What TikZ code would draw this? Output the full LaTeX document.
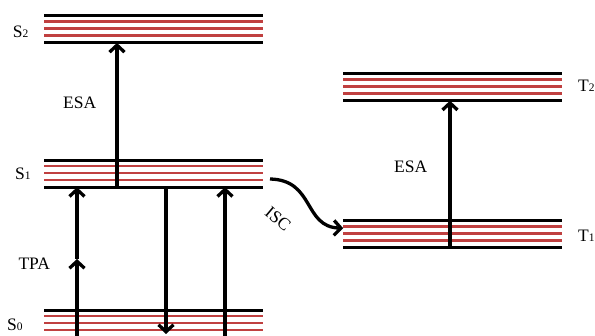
\documentclass[tikz,border=0pt]{standalone}
\usepackage{fontspec}
\setmainfont{Liberation Serif}
\usetikzlibrary{arrows.meta,calc}
\definecolor{lvred}{RGB}{192,64,64}
\newcommand\lvsub[1]{{\fontsize{11.5}{12}\selectfont #1}}
\begin{document}
\begin{tikzpicture}[x=1pt,y=-1pt,
  level/.style={minimum width=219pt, minimum height=27pt, inner sep=0pt, outer sep=0pt},
  blk/.style={line width=3pt, black},
  redl/.style={line width=2.4pt, lvred},
  arr/.style={line width=3.3pt, -{Straight Barb[length=7pt,width=15pt]}},
  lab/.style={font=\fontsize{17.5}{20}\selectfont, anchor=base west, inner sep=0pt},
]
\useasboundingbox (0,0) rectangle (595,336);
% levels
\node[level] (S2) at (153.5,29.4) {};
\node[level] (S1) at (153.5,173.7) {};
\node[level] (S0) at (153.5,323.7) {};
\node[level] (T2) at (452.7,87.2) {};
\node[level] (T1) at (452.7,234.2) {};
\foreach \n in {S2,S1,S0,T2,T1} {
  \draw[blk] (\n.north west) -- (\n.north east);
  \draw[blk] (\n.south west) -- (\n.south east);
  \foreach \f in {0.21,0.47,0.73}
    \draw[redl] ($(\n.north west)!\f!(\n.south west)$) -- ($(\n.north east)!\f!(\n.south east)$);
}
% labels
\node[lab] (lS2) at (12.7,37.3) {S\lvsub{2}};
\node[lab] (lS1) at (15,180) {S\lvsub{1}};
\node[lab] (lS0) at (7,331) {S\lvsub{0}};
\node[lab] (lT2) at (578,91.7) {T\lvsub{2}};
\node[lab] (lT1) at (578,241.5) {T\lvsub{1}};
\node[lab] (esa1) at (63,108.3) {ESA};
\node[lab] (esa2) at (394,173) {ESA};
\node[lab] (tpa) at (18.3,270) {TPA};
\node[font=\fontsize{17.5}{20}\selectfont, rotate=-40, inner sep=0pt] (isc) at (278,219) {ISC};
% arrows
\coordinate (e1) at (117,0);
\draw[arr] (S1.south -| e1) -- (S2.south -| e1);
\coordinate (tpa0) at (77,345);
\coordinate (tpam) at (77,259);
\draw[arr] (tpa0) -- (tpam);
\draw[arr] (tpam) -- (S1.south -| tpam);
\coordinate (dn) at (166,334);
\draw[arr] (S1.south -| dn) -- (dn);
\coordinate (up2) at (225,345);
\draw[arr] (up2) -- (S1.south -| up2);
\coordinate (te) at (450,0);
\draw[arr] (T1.south -| te) -- (T2.south -| te);
\coordinate (iscs) at (270,179);
\draw[arr] (iscs) .. controls (315,180) and (303,227) .. ($(T1.west)+(0,-6)$);
\end{tikzpicture}
\end{document}
